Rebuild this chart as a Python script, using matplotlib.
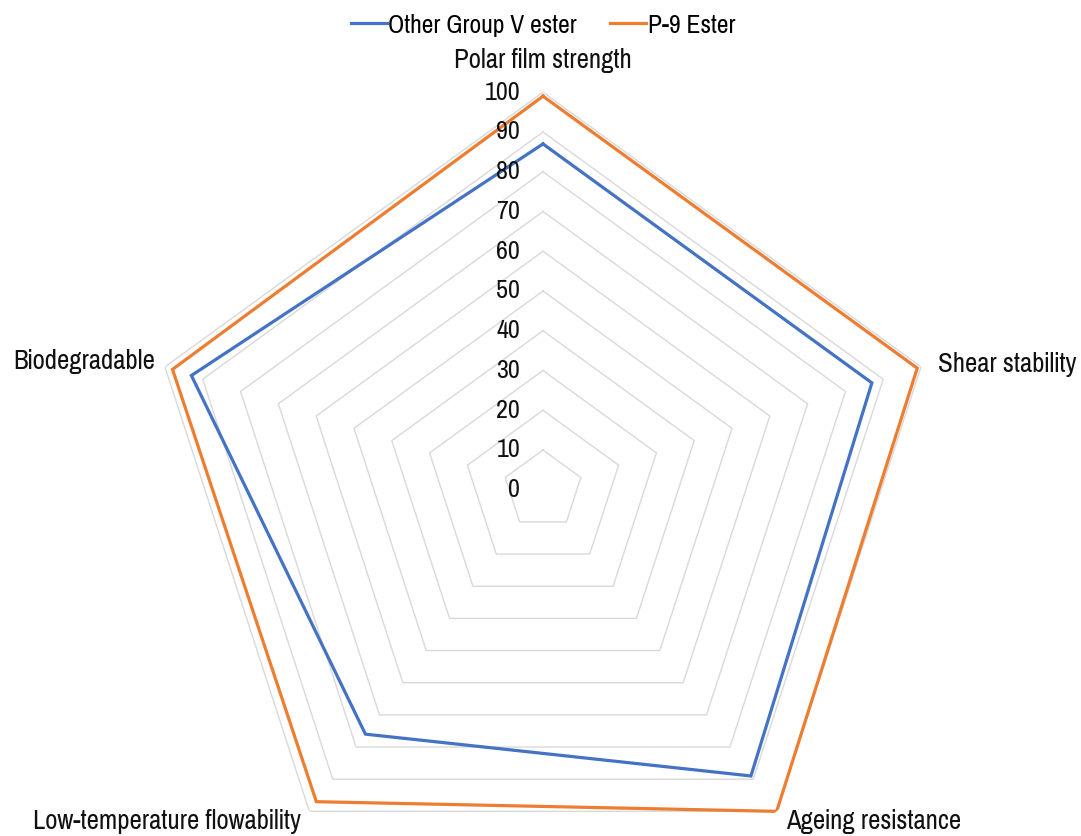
import numpy as np
import matplotlib
matplotlib.use("Agg")
import matplotlib.pyplot as plt
from matplotlib import font_manager

names = {f.name for f in font_manager.fontManager.ttflist}
prefs = ['Pragati Narrow', 'Archivo Narrow', 'Liberation Sans Narrow', 'Roboto Condensed']
fam = [p for p in prefs if p in names][:1] + ['DejaVu Sans']
plt.rcParams['font.family'] = fam

categories = ["Polar film strength", "Shear stability", "Ageing resistance",
              "Low-temperature flowability", "Biodegradable"]
other_group_v = [87, 87, 89, 76, 93]
p9_ester = [99, 99, 100, 97, 98]
ticks = list(range(0, 101, 10))

blue = "#4472C4"
orange = "#ED7D31"

fig = plt.figure(figsize=(10.81, 8.36), dpi=100)
cx, cy, R = 543, 489.75, 397.5
W, H = 1081, 836
ax = fig.add_axes([(cx - R) / W, (H - cy - R) / H, 2 * R / W, 2 * R / H], projection='polar')
ax.set_theta_offset(np.pi / 2)
ax.set_theta_direction(-1)
ax.set_ylim(0, 100)
ax.grid(False)
ax.spines['polar'].set_visible(False)
ax.set_xticks([])
ax.set_yticks([])
ax.patch.set_alpha(0)

n = len(categories)
angles = np.linspace(0, 2 * np.pi, n, endpoint=False)
ang_c = np.append(angles, angles[0])

for t in ticks[1:]:
    ax.plot(ang_c, [t] * (n + 1), color="#d9d9d9", lw=1.0, zorder=1)

for vals, col, lab in [(other_group_v, blue, "Other Group V ester"), (p9_ester, orange, "P-9 Ester")]:
    v = np.append(vals, vals[0])
    ax.plot(ang_c, v, color=col, lw=2.3, label=lab, zorder=3, solid_joinstyle='miter')

for t in ticks:
    ax.annotate(str(t), xy=(0, t), xytext=(-16.5, 0), textcoords='offset points',
                ha='right', va='center', fontsize=20.5, color='#111111')

fs = 21
px = 0.72
offsets = [((0, 32), 'center'), ((17, 2), 'left'), ((9, -10), 'left'),
           ((-8, -10), 'right'), ((-10, 5), 'right')]
for a, c, (off, ha) in zip(angles, categories, offsets):
    ax.annotate(c, xy=(a, 100), xytext=(off[0] * px, off[1] * px), textcoords='offset points',
                ha=ha, va='center', fontsize=fs, color='#111111')

fig.legend(loc='center', bbox_to_anchor=(543 / W, 1 - 25 / H), ncol=2, frameon=False,
           fontsize=20, handlelength=1.3, handletextpad=0.05, columnspacing=1.2)

fig.savefig("out.png", dpi=100)
